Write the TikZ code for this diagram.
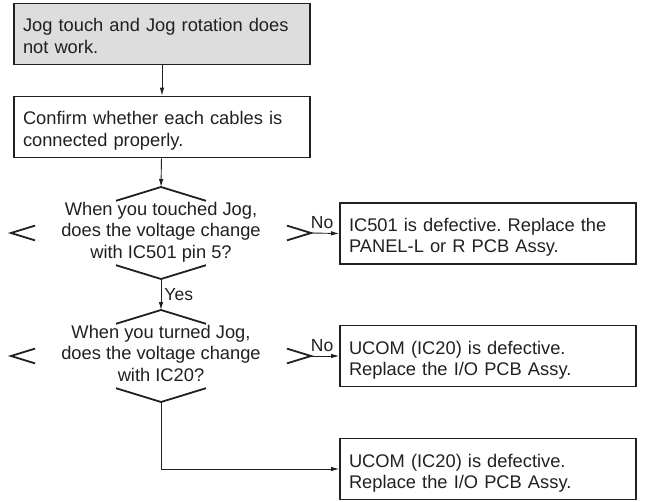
\documentclass[tikz,border=0pt]{standalone}
\usepackage{fontspec}
\setmainfont{Liberation Sans}
\usetikzlibrary{shapes.geometric,arrows.meta,calc}
\frenchspacing
\newcommand\chartfont{\fontsize{18.3pt}{21.5pt}\selectfont}
\newcommand\labelfont{\fontsize{17.5pt}{20pt}\selectfont}
% fixed first-line height and last-line depth, so every text block sits alike
\newcommand\firstlinerule[1]{\rule{0pt}{#1}}
\newcommand\lastlinerule{\rule[-6pt]{0pt}{6pt}}
\definecolor{ink}{RGB}{35,31,32}
\definecolor{startfill}{RGB}{221,221,221}
\begin{document}
\begin{tikzpicture}[x=1pt,y=-1pt,
  every node/.style={text=ink},
  stepbox/.style={draw=ink, line width=1.8pt, minimum width=296pt, minimum height=61pt,
    text width=278pt, inner xsep=9pt, inner ysep=0pt, align=left, font=\chartfont,
    execute at begin node={\firstlinerule{23.5pt}}, execute at end node={\lastlinerule}},
  decide/.style={diamond, minimum width=300pt, minimum height=92pt, inner sep=0pt, outer sep=0pt},
  question/.style={align=center, font=\chartfont, inner sep=0pt,
    execute at begin node={\firstlinerule{22.5pt}}, execute at end node={\lastlinerule}},
  corner/.style={draw=ink, line width=1.8pt},
  flow/.style={draw=ink, line width=0.9pt, -{Latex[length=8pt,width=4.5pt]}},
  tag/.style={font=\labelfont, inner sep=2pt}]
\useasboundingbox (0,0) rectangle (647,502);

% left column
\node[stepbox, fill=startfill] (start) at (162,34)
  {Jog touch and Jog rotation does\\not work.};
\node[stepbox] (cables) at (162,127)
  {Confirm whether each cables is\\connected properly.};

% decision outlines (only the corners are drawn)
\node[decide] (touch) at (161,233) {};
\node[question] (touchq) at (touch)
  {When you touched Jog,\\does the voltage change\\with IC501 pin 5?};
\node[decide] (turn) at (161,356) {};
\node[question] (turnq) at (turn)
  {When you turned Jog,\\does the voltage change\\with IC20?};

\foreach \d in {touch,turn}{
  \draw[corner] ($(\d.north)!0.3!(\d.west)$) -- (\d.north) -- ($(\d.north)!0.3!(\d.east)$);
  \draw[corner] ($(\d.south)!0.3!(\d.west)$) -- (\d.south) -- ($(\d.south)!0.3!(\d.east)$);
  \draw[corner] ($(\d.west)!0.16!(\d.north)$) -- (\d.west) -- ($(\d.west)!0.16!(\d.south)$);
  \draw[corner] ($(\d.east)!0.16!(\d.north)$) -- (\d.east) -- ($(\d.east)!0.16!(\d.south)$);
}

% right column
\node[stepbox] (panel) at (488,233.5)
  {IC501 is defective. Replace the\\PANEL-L or R PCB Assy.};
\node[stepbox] (ucomA) at (488,356)
  {UCOM (IC20) is defective.\\Replace the I/O PCB Assy.};
\node[stepbox] (ucomB) at (488,469)
  {UCOM (IC20) is defective.\\Replace the I/O PCB Assy.};

% connectors
\draw[flow] (start) -- (cables);
\draw[flow] (cables) -- (touch.north);
\draw[flow] (touch.south) -- node[tag, right, xshift=1pt] {Yes} (turn.north);
\draw[flow] (touch.east) -- node[tag, above, xshift=-3pt, yshift=2pt] {No} (panel.west);
\draw[flow] (turn.east) -- node[tag, above, xshift=-3pt, yshift=2pt] {No} (ucomA.west);
\draw[flow] (turn.south) |- (ucomB.west);
\end{tikzpicture}
\end{document}
